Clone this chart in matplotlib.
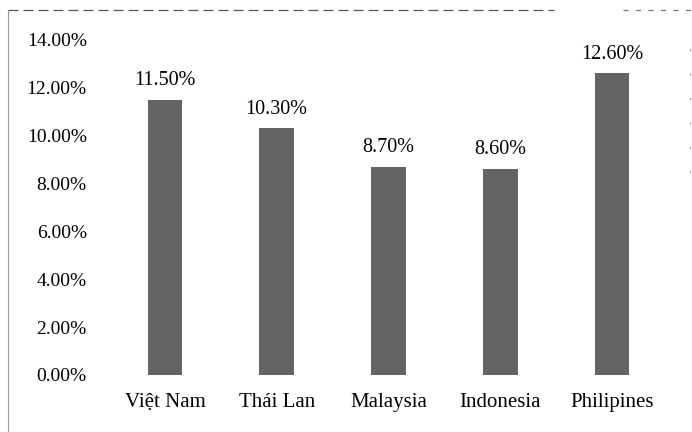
import matplotlib
matplotlib.use("Agg")
import matplotlib.pyplot as plt
from matplotlib.lines import Line2D

countries = ["Việt Nam", "Thái Lan", "Malaysia", "Indonesia", "Philipines"]
rates = [11.5, 10.3, 8.7, 8.6, 12.6]
y_ticks = [0, 2, 4, 6, 8, 10, 12, 14]

plt.rcParams['font.family'] = ['Liberation Serif', 'DejaVu Serif']

fig = plt.figure(figsize=(6.92, 4.32), dpi=100)
ax = fig.add_axes([0.1575, 0.132, 0.8078, 0.7755])

x = range(len(countries))
bars = ax.bar(x, rates, width=0.31, color='#646464')

for b, v in zip(bars, rates):
    ax.annotate("%.2f%%" % v, (b.get_x() + b.get_width() / 2, v),
                xytext=(0, 7), textcoords='offset points',
                ha='center', va='bottom', fontsize=14.5)

ax.set_xlim(-0.5, len(countries) - 0.5)
ax.set_ylim(0, 14)
ax.set_yticks(y_ticks)
ax.set_yticklabels(["%.2f%%" % t for t in y_ticks], fontsize=14)
ax.set_xticks(list(x))
ax.set_xticklabels(countries, fontsize=15)
ax.tick_params(axis='both', length=0)
ax.tick_params(axis='y', pad=16)
ax.tick_params(axis='x', pad=13)
for s in ax.spines.values():
    s.set_visible(False)

# scanned frame around the chart
fig.add_artist(Line2D([0.012, 0.80], [0.978, 0.978], color='#555555',
                      lw=0.9, ls=(0, (8, 4))))
fig.add_artist(Line2D([0.90, 1.0], [0.978, 0.978], color='#777777',
                      lw=0.9, ls=(0, (4, 6))))
fig.add_artist(Line2D([0.012, 0.012], [0.0, 0.978], color='#999999', lw=0.8))
fig.add_artist(Line2D([0.997, 0.997], [0.6, 0.9], color='#999999', lw=0.8,
                      ls=(0, (2, 20))))

fig.savefig("out.png", dpi=100)
